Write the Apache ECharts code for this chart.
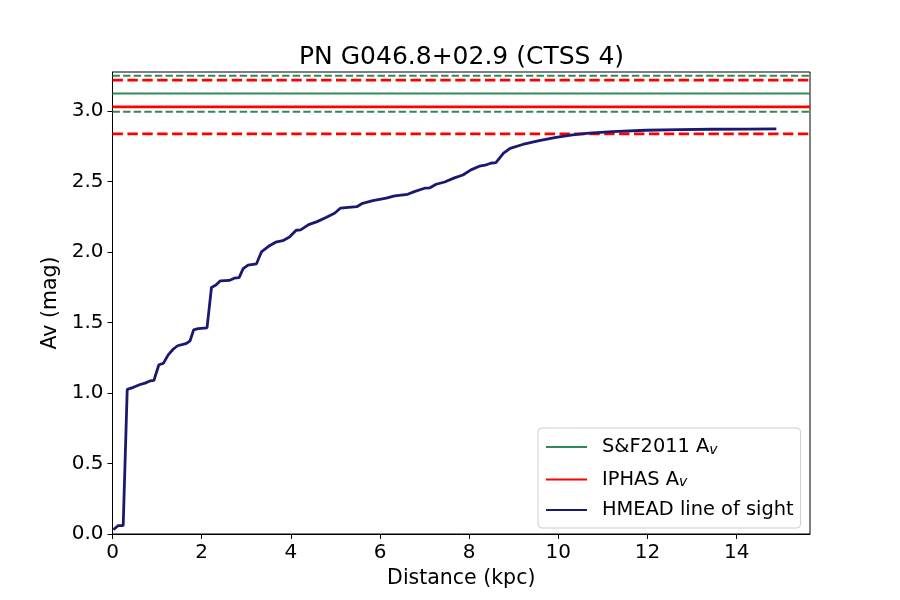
<!DOCTYPE html>
<html>
<head>
<meta charset="utf-8">
<script src="https://cdn.jsdelivr.net/npm/echarts@6/dist/echarts.min.js"></script>
<style>html,body{margin:0;padding:0;background:#fff}#c{width:900px;height:600px}</style>
</head>
<body>
<div id="c"></div>
<script>
// HMEAD line of sight (distance in kpc, extinction Av in mag)
const distance = [0.02,0.13,0.24,0.33,0.47,0.62,0.73,0.84,0.93,1.04,1.14,1.25,1.36,1.46,1.58,1.66,1.74,1.82,1.92,2.12,2.22,2.32,2.42,2.62,2.73,2.84,2.93,3.04,3.23,3.34,3.5,3.66,3.82,3.97,4.12,4.22,4.4,4.59,4.8,4.98,5.11,5.48,5.61,5.84,6.14,6.33,6.62,6.77,7.0,7.11,7.26,7.45,7.67,7.86,8.04,8.23,8.36,8.48,8.6,8.77,8.92,9.2,9.57,9.95,10.32,10.69,11.21,11.96,12.71,13.45,14.2,14.89];
const av = [0.03,0.06,0.06,1.025,1.04,1.06,1.07,1.085,1.09,1.2,1.21,1.27,1.31,1.335,1.345,1.352,1.37,1.447,1.456,1.462,1.748,1.765,1.795,1.798,1.814,1.818,1.882,1.906,1.916,2.0,2.04,2.069,2.08,2.106,2.154,2.156,2.194,2.215,2.246,2.274,2.31,2.321,2.345,2.364,2.381,2.397,2.409,2.428,2.452,2.454,2.48,2.496,2.525,2.546,2.582,2.608,2.615,2.629,2.633,2.7,2.735,2.762,2.789,2.813,2.83,2.842,2.853,2.863,2.867,2.87,2.871,2.872];
// Reference extinctions
const sfAv = 3.123;
const sfBounds = [2.995, 3.250];
const iphasAv = 3.028;
const iphasBounds = [2.837, 3.218];
// Axes
const xTicks = [0,2,4,6,8,10,12,14];
const yTicks = [0,0.5,1.0,1.5,2.0,2.5,3.0];
const xMax = 15.645;
const yMax = 3.276;

const FONT = 'DejaVu Sans';
const hline = v => [[0, v], [xMax, v]];
const curve = distance.map((d, i) => [d, av[i]]);

const chart = echarts.init(document.getElementById('c'), null, {renderer: 'canvas'});
const legendNames = {
  'S&F2011 Av': 'S&F2011 A{sub|v}',
  'IPHAS Av': 'IPHAS A{sub|v}',
  'HMEAD line of sight': 'HMEAD line of sight'
};
chart.setOption({
  animation: false,
  backgroundColor: '#fff',
  title: {
    text: 'PN G046.8+02.9 (CTSS 4)',
    left: 294, top: 40,
    textStyle: {fontFamily: FONT, fontSize: 25, fontWeight: 'normal', color: '#000'}
  },
  grid: {left: 112.5, right: 90, top: 72, bottom: 66, show: true, borderColor: '#000', borderWidth: 1, backgroundColor: 'transparent'},
  legend: {
    data: ['S&F2011 Av', 'IPHAS Av', 'HMEAD line of sight'],
    orient: 'vertical',
    left: 538, top: 428,
    padding: [7, 7, 8, 7],
    itemWidth: 41, itemHeight: 20, itemGap: 10.5,
    backgroundColor: 'rgba(255,255,255,0.8)',
    borderColor: '#cccccc', borderWidth: 1, borderRadius: 4,
    itemStyle: {opacity: 0},
    formatter: n => legendNames[n] || n,
    textStyle: {
      fontFamily: FONT, fontSize: 19.4, color: '#000', lineHeight: 20, padding: [0, 0, 0, 10],
      rich: {sub: {fontFamily: FONT, fontSize: 14, fontStyle: 'italic', color: '#000', lineHeight: 20, verticalAlign: 'bottom', padding: [8, 0, 0, 0]}}
    }
  },
  xAxis: {
    type: 'value', min: 0, max: xMax,
    name: 'Distance (kpc)', nameLocation: 'middle', nameGap: 33,
    nameTextStyle: {fontFamily: FONT, fontSize: 20.5, color: '#000'},
    axisLine: {show: true, lineStyle: {color: '#000', width: 1}},
    axisTick: {show: true, length: 5, lineStyle: {color: '#000'}, customValues: xTicks},
    axisLabel: {fontFamily: FONT, fontSize: 20, color: '#000', margin: 9, customValues: xTicks},
    splitLine: {show: false}
  },
  yAxis: {
    type: 'value', min: 0, max: yMax,
    name: 'Av (mag)', nameLocation: 'middle', nameGap: 48,
    nameTextStyle: {fontFamily: FONT, fontSize: 20.5, color: '#000'},
    axisLine: {show: true, lineStyle: {color: '#000', width: 1}},
    axisTick: {show: true, length: 5, lineStyle: {color: '#000'}, customValues: yTicks},
    axisLabel: {fontFamily: FONT, fontSize: 20, color: '#000', margin: 9, padding: [4, 0, 0, 0], customValues: yTicks, formatter: v => v.toFixed(1)},
    splitLine: {show: false}
  },
  series: [
    {name: 'S&F2011 Av', type: 'line', data: hline(sfAv), symbol: 'none', lineStyle: {color: '#2e8b57', width: 2}, itemStyle: {color: '#2e8b57'}, z: 2},
    {name: 'S&F2011 low', type: 'line', data: hline(sfBounds[0]), symbol: 'none', lineStyle: {color: '#2e8b57', width: 2, type: [7.4, 3.2]}, z: 2},
    {name: 'S&F2011 high', type: 'line', data: hline(sfBounds[1]), symbol: 'none', lineStyle: {color: '#2e8b57', width: 2, type: [7.4, 3.2]}, z: 2},
    {name: 'IPHAS Av', type: 'line', data: hline(iphasAv), symbol: 'none', lineStyle: {color: '#ff0000', width: 2.8}, itemStyle: {color: '#ff0000'}, z: 3},
    {name: 'IPHAS low', type: 'line', data: hline(iphasBounds[0]), symbol: 'none', lineStyle: {color: '#ff0000', width: 2.8, type: [10.4, 4.5]}, z: 3},
    {name: 'IPHAS high', type: 'line', data: hline(iphasBounds[1]), symbol: 'none', lineStyle: {color: '#ff0000', width: 2.8, type: [10.4, 4.5]}, z: 3},
    {name: 'HMEAD line of sight', type: 'line', data: curve, symbol: 'none', lineStyle: {color: '#191970', width: 2.8}, itemStyle: {color: '#191970'}, z: 4}
  ]
});
</script>
</body>
</html>
